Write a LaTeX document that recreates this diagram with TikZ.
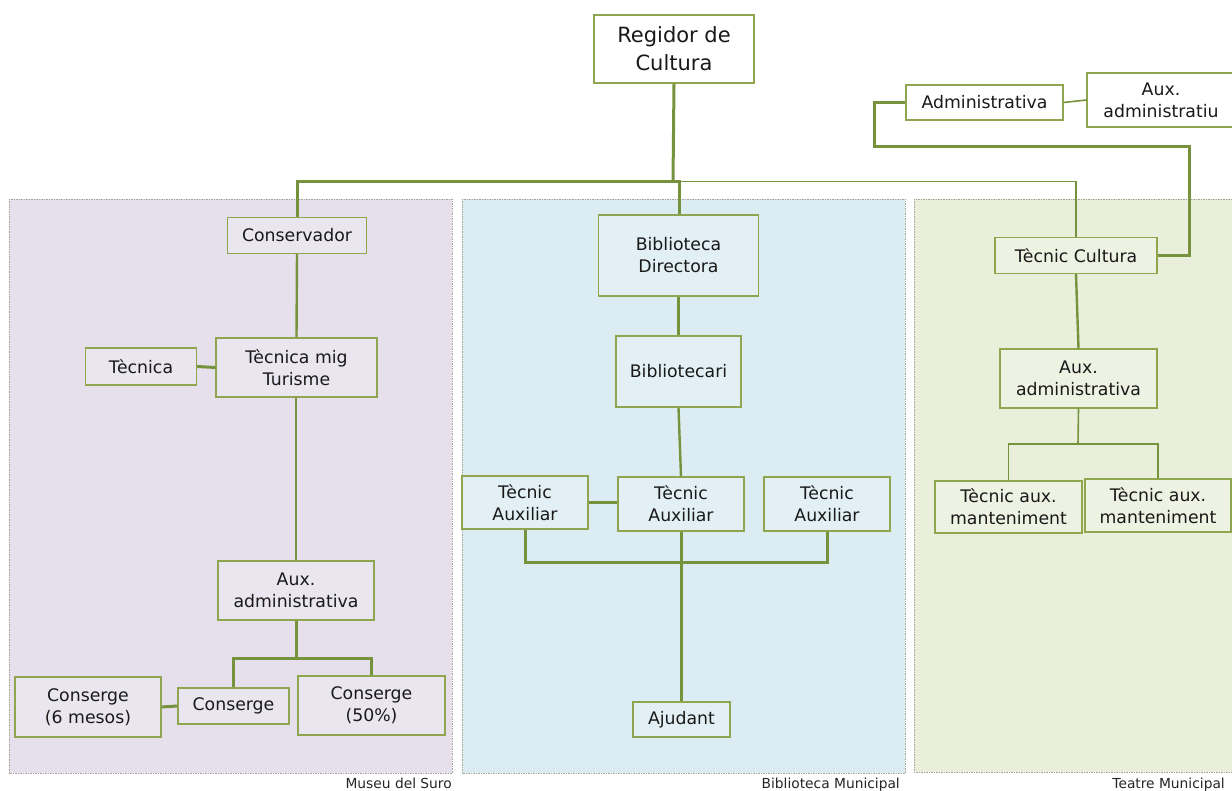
\documentclass[tikz,border=0pt]{standalone}
\usepackage{fontspec}
\setmainfont{DejaVu Sans}
\definecolor{linec}{HTML}{77923C}
\definecolor{boxc}{HTML}{8FA64F}
\definecolor{panm}{HTML}{E6E0EC}
\definecolor{panb}{HTML}{DCECF3}
\definecolor{pant}{HTML}{E9EFDB}
\definecolor{fillm}{HTML}{EAE6F0}
\definecolor{fillb}{HTML}{E2F0F5}
\definecolor{fillt}{HTML}{EDF2E2}
\definecolor{pbord}{HTML}{A5A89A}
\tikzset{
  box/.style={draw=boxc, line width=1.3pt, align=center, inner sep=0pt, text=black!90,
    font=\fontsize{17.3}{22}\selectfont},
  panel/.style={draw=pbord, dashed, dash pattern=on 1.5pt off 1pt, line width=0.8pt},
  thickl/.style={draw=linec, line width=3pt},
  thinl/.style={draw=linec, line width=1.6pt},
  plabel/.style={anchor=east, inner sep=0pt, font=\fontsize{13.8}{15}\selectfont, text=black!85},
}
\begin{document}
\begin{tikzpicture}[x=1pt,y=-1pt]
\useasboundingbox (0,0) rectangle (1232,791);
% panels
\fill[white] (0,0) rectangle (1232,791);
\path[panel, fill=panm] (9,199) rectangle (452,773);
\path[panel, fill=panb] (462,199) rectangle (905,773);
\path[panel, fill=pant] (914,199) rectangle (1240,772);
\node[plabel] (lm) at (452,783) {Museu del Suro};
\node[plabel] (lb) at (900,785) {Biblioteca Municipal};
\node[plabel] (lt) at (1225,785) {Teatre Municipal};

% top
\node[box, fill=white, minimum width=160pt, minimum height=68pt,
  font=\fontsize{21}{28}\selectfont] (reg) at (674,49) {Regidor de\\Cultura};
\node[box, fill=white, minimum width=157pt, minimum height=35pt] (adm) at (984.5,102.5) {Administrativa};
\node[box, fill=white, minimum width=148pt, minimum height=54pt] (aux) at (1161,100) {Aux.\\administratiu};

% Museu
\node[box, fill=fillm, minimum width=139pt, minimum height=36pt] (cons) at (297,235.5) {Conservador};
\node[box, fill=fillm, minimum width=161pt, minimum height=59pt] (tmt) at (296.5,367.5) {Tècnica mig\\Turisme};
\node[box, fill=fillm, minimum width=111pt, minimum height=37pt] (tec) at (141,366.5) {Tècnica};
\node[box, fill=fillm, minimum width=156pt, minimum height=59pt] (auxm) at (296,590.5) {Aux.\\administrativa};
\node[box, fill=fillm, minimum width=146pt, minimum height=60pt] (c6) at (88,707) {Conserge\\(6 mesos)};
\node[box, fill=fillm, minimum width=111pt, minimum height=36pt] (cg) at (233.5,706) {Conserge};
\node[box, fill=fillm, minimum width=147pt, minimum height=59pt] (c50) at (371.5,705.5) {Conserge\\(50\%)};

% Biblioteca
\node[box, fill=fillb, minimum width=160pt, minimum height=81pt] (bib) at (678.5,255.5) {Biblioteca\\Directora};
\node[box, fill=fillb, minimum width=125pt, minimum height=71pt] (bibc) at (678.5,371.5) {Bibliotecari};
\node[box, fill=fillb, minimum width=126pt, minimum height=53pt] (ta1) at (525,502.5) {Tècnic\\Auxiliar};
\node[box, fill=fillb, minimum width=126pt, minimum height=54pt] (ta2) at (681,504) {Tècnic\\Auxiliar};
\node[box, fill=fillb, minimum width=126pt, minimum height=54pt] (ta3) at (827,504) {Tècnic\\Auxiliar};
\node[box, fill=fillb, minimum width=97pt, minimum height=35pt] (aj) at (681.5,719.5) {Ajudant};

% Teatre
\node[box, fill=fillt, minimum width=162pt, minimum height=36pt] (tc) at (1076,255.5) {Tècnic Cultura};
\node[box, fill=fillt, minimum width=157pt, minimum height=59pt] (auxt) at (1078.5,378.5) {Aux.\\administrativa};
\node[box, fill=fillt, minimum width=147pt, minimum height=52pt] (tm1) at (1008.5,507) {Tècnic aux.\\manteniment};
\node[box, fill=fillt, minimum width=146pt, minimum height=53pt] (tm2) at (1158,505.5) {Tècnic aux.\\manteniment};

% connectors top
\coordinate (bus) at (673,182);
\draw[thickl] (reg.south) -- (bus);
\draw[thickl] (cons.north) |- (bus) -- (679,182) -- (bib.north -| 679,0);
\draw[thinl] (679,181.5) -| (tc.north);
\draw[thickl] (adm.west) -- ++(-31,0) |- (1189,147) |- (tc.east);
\draw[thinl] (adm.east) -- (aux.west);

% Museu connectors
\draw[thickl, line width=2.4pt] (cons.south) -- (tmt.north);
\draw[thickl] (tec.east) -- (tmt.west);
\draw[thickl, line width=2.4pt] (tmt.south -| auxm.north) -- (auxm.north);
\draw[thickl] (auxm.south) -- (296,658);
\draw[thickl] (cg.north) |- (296,658) -| (c50.north);
\draw[thickl] (c6.east) -- (cg.west);

% Biblioteca connectors
\draw[thickl, line width=2.4pt] (bib.south) -- (bibc.north);
\draw[thickl, line width=2.4pt] (bibc.south) -- (ta2.north);
\draw[thickl] (ta1.east) -- (ta2.west |- ta1.east);
\draw[thickl] (ta1.south) |- (681,562) -| (ta3.south);
\draw[thickl] (ta2.south) -- (aj.north -| ta2.south);

% Teatre connectors
\draw[thickl, line width=2.4pt] (tc.south) -- (auxt.north);
\draw[thinl] (auxt.south) -- (1078,444);
\draw[thinl] (tm1.north) |- (1078,444) -| (tm2.north);
\end{tikzpicture}
\end{document}
